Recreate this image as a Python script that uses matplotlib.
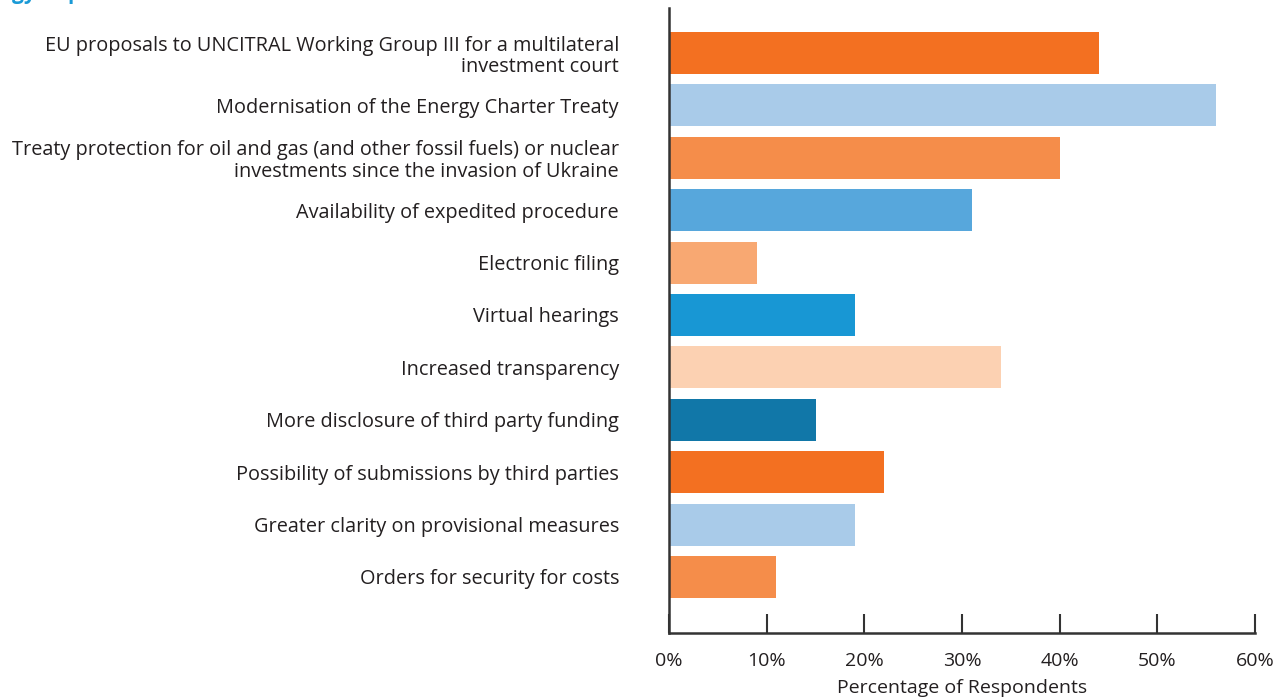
import numpy as np
import matplotlib; matplotlib.use("Agg")
import matplotlib.pyplot as plt
from matplotlib.ticker import FuncFormatter

plt.rcParams['font.family'] = ['Open Sans', 'DejaVu Sans']

labels = [
    'EU proposals to UNCITRAL Working Group III for a multilateral\ninvestment court',
    'Modernisation of the Energy Charter Treaty',
    'Treaty protection for oil and gas (and other fossil fuels) or nuclear\ninvestments since the invasion of Ukraine',
    'Availability of expedited procedure',
    'Electronic filing',
    'Virtual hearings',
    'Increased transparency',
    'More disclosure of third party funding',
    'Possibility of submissions by third parties',
    'Greater clarity on provisional measures',
    'Orders for security for costs',
]
values = [44, 56, 40, 31, 9, 19, 34, 15, 22, 19, 11]
colors = ['#F37021', '#A9CBE9', '#F58D4A', '#57A7DC', '#F8A872',
          '#1897D4', '#FCD1B2', '#1177A8', '#F37021', '#A9CBE9', '#F58D4A']
xticks = [0, 10, 20, 30, 40, 50, 60]

TXT = '#231F20'
fig = plt.figure(figsize=(12.79, 6.98), dpi=100)
ax = fig.add_axes([669 / 1279, 1 - 633 / 698, 586 / 1279, 625 / 698])

y = np.arange(len(labels))
ax.barh(y, values, height=0.8, color=colors, zorder=2)
ax.set_ylim(11.07, -0.86)
ax.set_xlim(0, 60)

ax.set_yticks(y)
ax.set_yticklabels(labels, fontsize=14.3, color=TXT, linespacing=1.1)
ax.tick_params(axis='y', length=0, pad=36)
ax.set_xticks(xticks)
ax.xaxis.set_major_formatter(FuncFormatter(lambda v, p: f'{v:.0f}%'))
ax.tick_params(axis='x', direction='in', length=14, width=1.5, color='#333333',
               labelsize=14, labelcolor=TXT, pad=14)
ax.set_xlabel('Percentage of Respondents', fontsize=14, color=TXT, labelpad=6)

for s in ['top', 'right']:
    ax.spines[s].set_visible(False)
for s in ['left', 'bottom']:
    ax.spines[s].set_linewidth(1.8)
    ax.spines[s].set_color('#333333')
    ax.spines[s].set_zorder(3)

# clipped heading from the page above
fig.text(12 / 1279, 1 + 1 / 698, 'gy impact?', fontsize=15, weight='bold',
         color='#1A9AD6', va='baseline', ha='left')

fig.savefig('out.png', dpi=100)
